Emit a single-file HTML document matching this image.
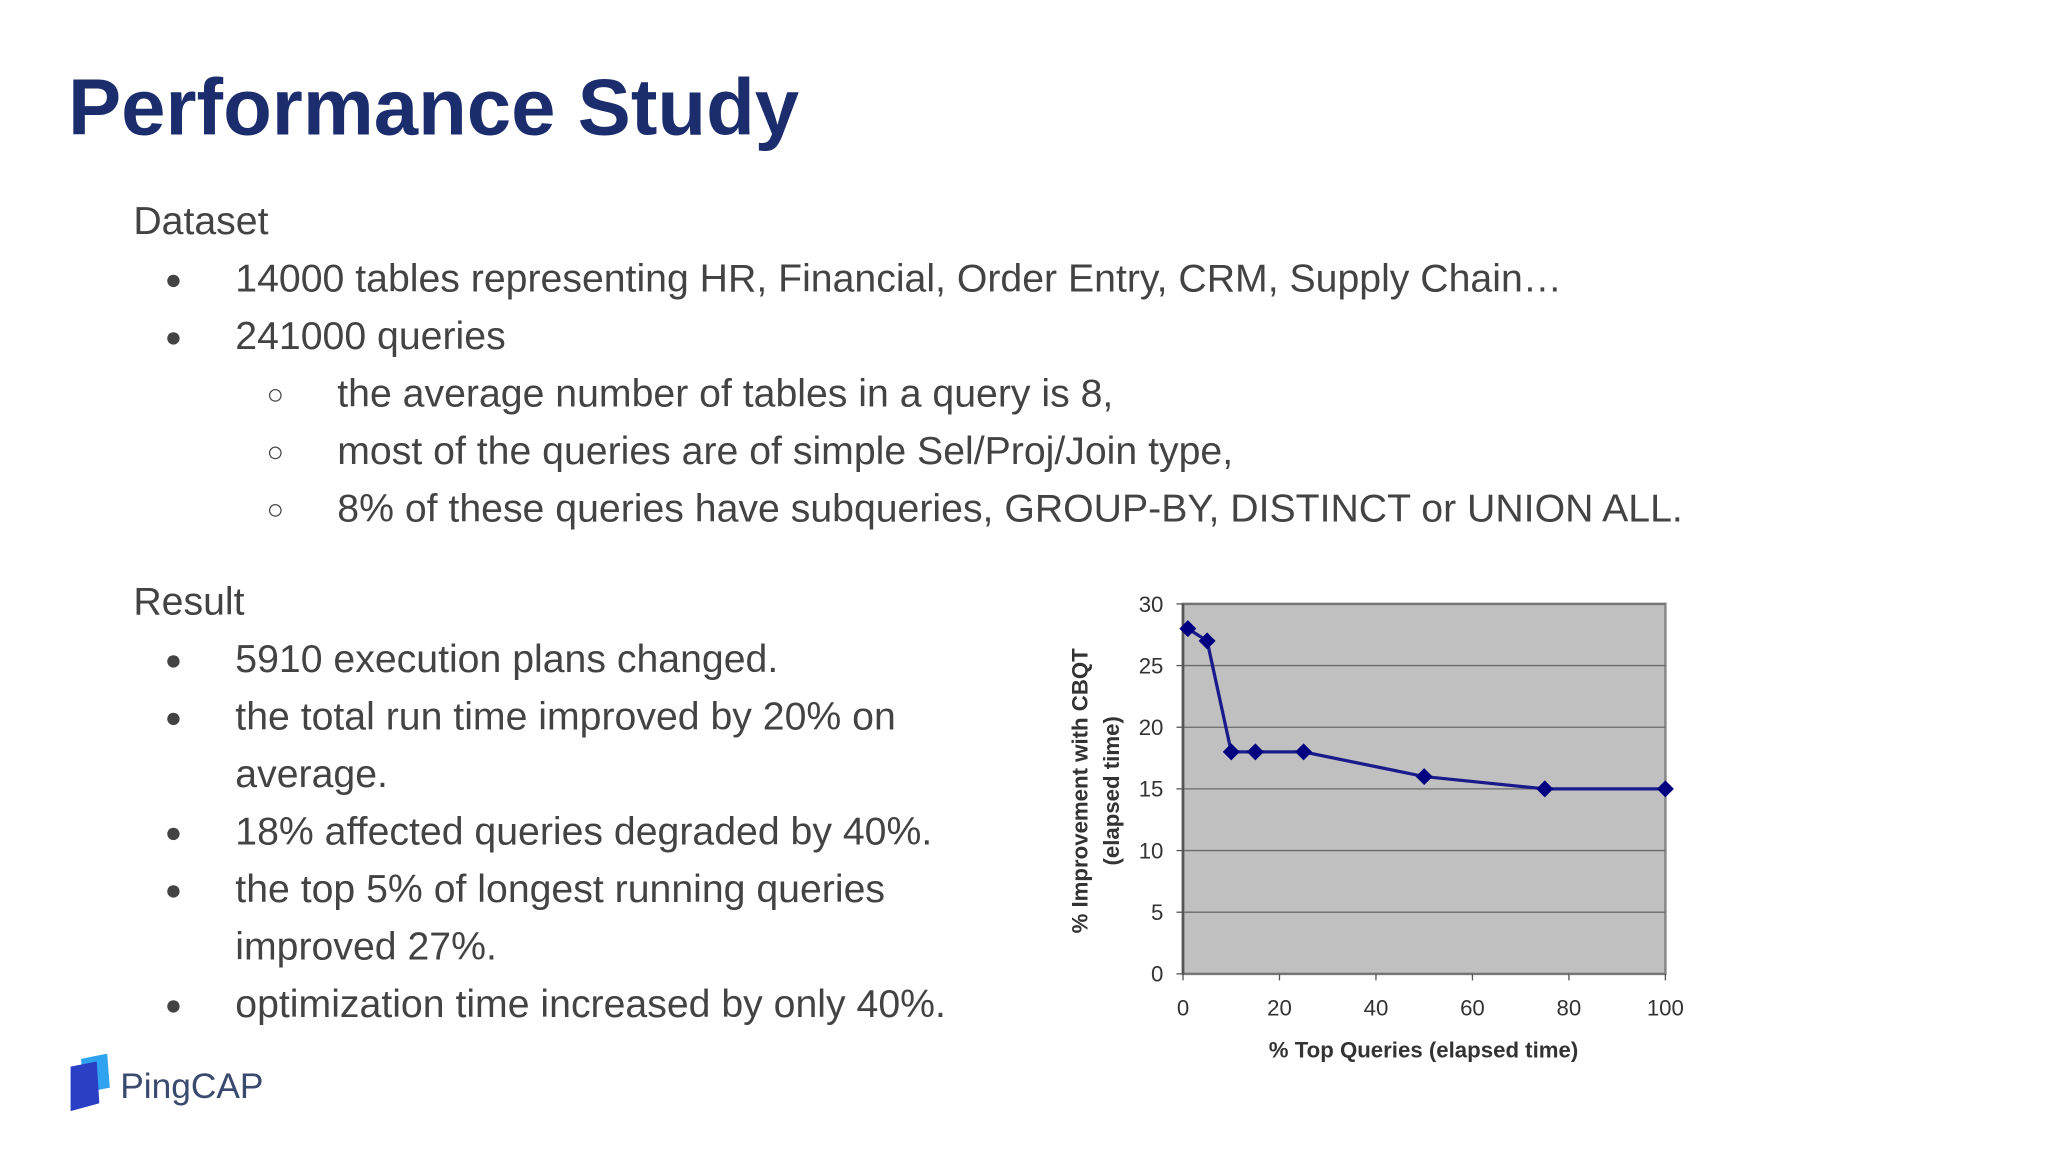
<!DOCTYPE html>
<html><head><meta charset="utf-8">
<style>
html,body{margin:0;padding:0;background:#fff;overflow:hidden}
body{width:2048px;height:1152px}
#wrap{position:absolute;left:0;top:0;width:1567px;height:882px;transform:scale(1.3072);transform-origin:0 0;font-family:"Liberation Sans",sans-serif}
.t{position:absolute;white-space:nowrap;color:#434343;font-size:30px;line-height:1}
.b{position:absolute;color:#434343;font-size:22px;line-height:1}
</style></head><body>
<div id="wrap">
<div class="t" style="left:52px;top:52px;font-size:61px;font-weight:bold;color:#1c2d6e">Performance Study</div>

<div class="t" style="left:102px;top:155px">Dataset</div>
<div class="b" style="left:126px;top:203px">●</div>
<div class="t" style="left:180px;top:199px">14000 tables representing HR, Financial, Order Entry, CRM, Supply Chain…</div>
<div class="b" style="left:126px;top:247px">●</div>
<div class="t" style="left:180px;top:243px">241000 queries</div>
<div class="b" style="left:204px;top:291px">○</div>
<div class="t" style="left:258px;top:287px">the average number of tables in a query is 8,</div>
<div class="b" style="left:204px;top:335px">○</div>
<div class="t" style="left:258px;top:331px">most of the queries are of simple Sel/Proj/Join type,</div>
<div class="b" style="left:204px;top:379px">○</div>
<div class="t" style="left:258px;top:375px">8% of these queries have subqueries, GROUP-BY, DISTINCT or UNION ALL.</div>

<div class="t" style="left:102px;top:446px">Result</div>
<div class="b" style="left:126px;top:494px">●</div>
<div class="t" style="left:180px;top:490px">5910 execution plans changed.</div>
<div class="b" style="left:126px;top:538px">●</div>
<div class="t" style="left:180px;top:534px">the total run time improved by 20% on</div>
<div class="t" style="left:180px;top:578px">average.</div>
<div class="b" style="left:126px;top:626px">●</div>
<div class="t" style="left:180px;top:622px">18% affected queries degraded by 40%.</div>
<div class="b" style="left:126px;top:670px">●</div>
<div class="t" style="left:180px;top:666px">the top 5% of longest running queries</div>
<div class="t" style="left:180px;top:710px">improved 27%.</div>
<div class="b" style="left:126px;top:758px">●</div>
<div class="t" style="left:180px;top:754px">optimization time increased by only 40%.</div>

<svg style="position:absolute;left:50px;top:806px" width="160" height="50">
<polygon points="12,4 32,0 34,26 14,30" fill="#2fa3ef"/>
<polygon points="4,10 24,6 26,38 4,44" fill="#2a3fc4"/>
<text x="42" y="34" font-size="27" fill="#3a4a6e" font-family="Liberation Sans, sans-serif">PingCAP</text>
</svg>

<svg id="chart" style="position:absolute;left:0;top:0" width="1567" height="882"></svg>
</div>
<script>
const xValues=[1,5,10,15,25,50,75,100];
const yValues=[28,27,18,18,18,16,15,15];
const xTicks=[0,20,40,60,80,100];
const yTicks=[0,5,10,15,20,25,30];
const NS="http://www.w3.org/2000/svg";
const svg=document.getElementById('chart');
const L=905,R=1274,T=462,B=745;
const sx=v=>L+(v-0)/(100-0)*(R-L);
const sy=v=>B-(v-0)/(30-0)*(B-T);
function mk(tag,attrs,parent){const e=document.createElementNS(NS,tag);for(const k in attrs)e.setAttribute(k,attrs[k]);(parent||svg).appendChild(e);return e;}
let e=mk('rect',{x:L,y:T,width:R-L,height:B-T,fill:'#c0c0c0',stroke:'#8a8a8a','stroke-width':2});


yTicks.forEach(v=>{
  let g=mk('line',{x1:L,x2:R,y1:sy(v),y2:sy(v),stroke:'#6a6a6a','stroke-width':1});
  
  
  let tk=mk('line',{x1:L-5,x2:L,y1:sy(v),y2:sy(v),stroke:'#555','stroke-width':1});
  
  
  let t=mk('text',{x:L-15,y:sy(v)+6,'text-anchor':'end','font-size':17,fill:'#333','font-family':'Liberation Sans, sans-serif'});
  t.textContent=v;
  
  
});
xTicks.forEach(v=>{
  let tk=mk('line',{x1:sx(v),x2:sx(v),y1:B,y2:B+5,stroke:'#555','stroke-width':1});
  
  
  let t=mk('text',{x:sx(v),y:B+32,'text-anchor':'middle','font-size':17,fill:'#333','font-family':'Liberation Sans, sans-serif'});
  t.textContent=v;
  
  
});
let ax=mk('line',{x1:L,x2:L,y1:T,y2:B,stroke:'#555','stroke-width':2});


let line=mk('polyline',{points:xValues.map((x,i)=>sx(x)+','+sy(yValues[i])).join(' '),fill:'none',stroke:'#1a1a8c','stroke-width':2.5});


xValues.forEach((x,i)=>{
  const cx=sx(x),cy=sy(yValues[i]);
  let m=mk('polygon',{points:`${cx},${cy-6.5} ${cx+6.5},${cy} ${cx},${cy+6.5} ${cx-6.5},${cy}`,fill:'#000080'});
  
  
});
let xt=mk('text',{x:1089,y:809,'text-anchor':'middle','font-size':17,'font-weight':'bold',fill:'#333','font-family':'Liberation Sans, sans-serif'});
xt.textContent='% Top Queries (elapsed time)';


let yt=mk('text',{x:0,y:0,'text-anchor':'middle','font-size':17,'font-weight':'bold',fill:'#333','font-family':'Liberation Sans, sans-serif',transform:'translate(832,605) rotate(-90)'});
yt.textContent='% Improvement with CBQT';


let yt2=mk('text',{x:0,y:0,'text-anchor':'middle','font-size':17,'font-weight':'bold',fill:'#333','font-family':'Liberation Sans, sans-serif',transform:'translate(856,605) rotate(-90)'});
yt2.textContent='(elapsed time)';


</script>
</body></html>
